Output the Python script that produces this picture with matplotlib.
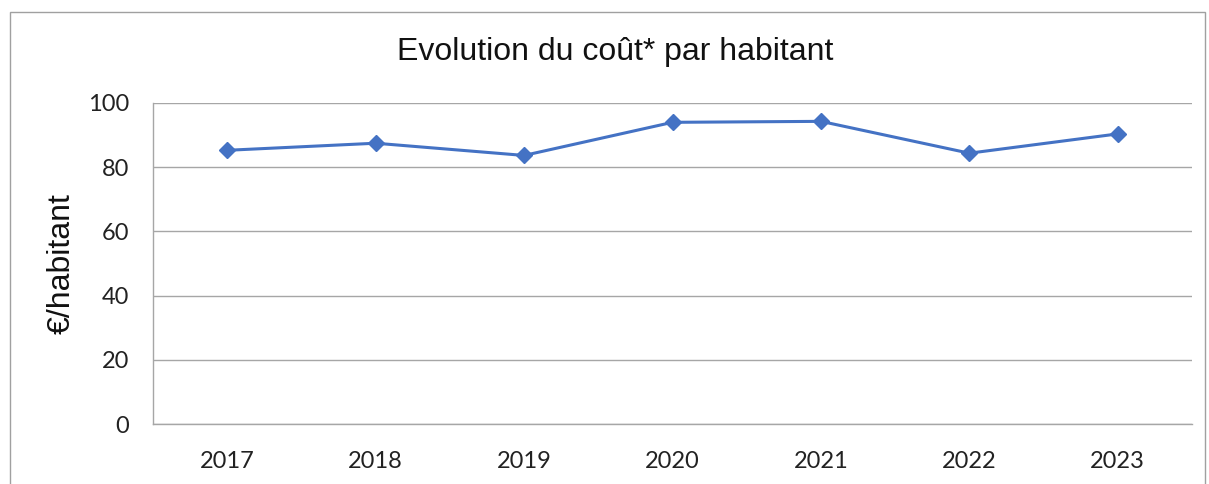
import matplotlib
matplotlib.use("Agg")
import matplotlib.pyplot as plt
from matplotlib.patches import Rectangle

years = ["2017", "2018", "2019", "2020", "2021", "2022", "2023"]
cost = [85.2, 87.4, 83.6, 93.9, 94.2, 84.3, 90.3]
yticks = [0, 20, 40, 60, 80, 100]

W, H = 1209, 484
fig = plt.figure(figsize=(W / 100, H / 100), dpi=100)
fig.patches.append(Rectangle((10 / W, -0.01), 1195 / W, 1 - 12 / H + 0.01,
                             transform=fig.transFigure, fill=False,
                             edgecolor="#a0a0a0", linewidth=1.0))

ax = fig.add_axes([153 / W, 1 - 424.3 / H, (1192 - 153) / W, (424.3 - 102.7) / H])
x = list(range(len(years)))
ax.plot(x, cost, color="#4472C4", linewidth=2.2, marker="D", markersize=8,
        markerfacecolor="#4472C4", markeredgecolor="#4472C4", zorder=3)

ax.set_xlim(-0.5, len(years) - 0.5)
ax.set_ylim(0, 100)
ax.set_yticks(yticks)
ax.set_xticks(x)
ax.set_xticklabels(years)
ax.yaxis.grid(True, color="#a6a6a6", linewidth=1.0)
ax.set_axisbelow(True)
for s in ["top", "right"]:
    ax.spines[s].set_visible(False)
for s in ["left", "bottom"]:
    ax.spines[s].set_color("#a6a6a6")
    ax.spines[s].set_linewidth(1.0)
ax.tick_params(axis="both", length=0, labelsize=17, labelcolor="#222222")
ax.tick_params(axis="x", pad=19)
ax.tick_params(axis="y", pad=17)
for lab in ax.get_xticklabels() + ax.get_yticklabels():
    lab.set_fontfamily(["Lato", "DejaVu Sans"])

ax.set_ylabel("€/habitant", fontsize=23, family=["Liberation Sans", "DejaVu Sans"],
              color="#111111", labelpad=8)
fig.text(615 / W, 1 - 52 / H, "Evolution du coût* par habitant", ha="center", va="center",
         fontsize=23, family=["Liberation Sans", "DejaVu Sans"], color="#111111")

fig.savefig("out.png", dpi=100)
